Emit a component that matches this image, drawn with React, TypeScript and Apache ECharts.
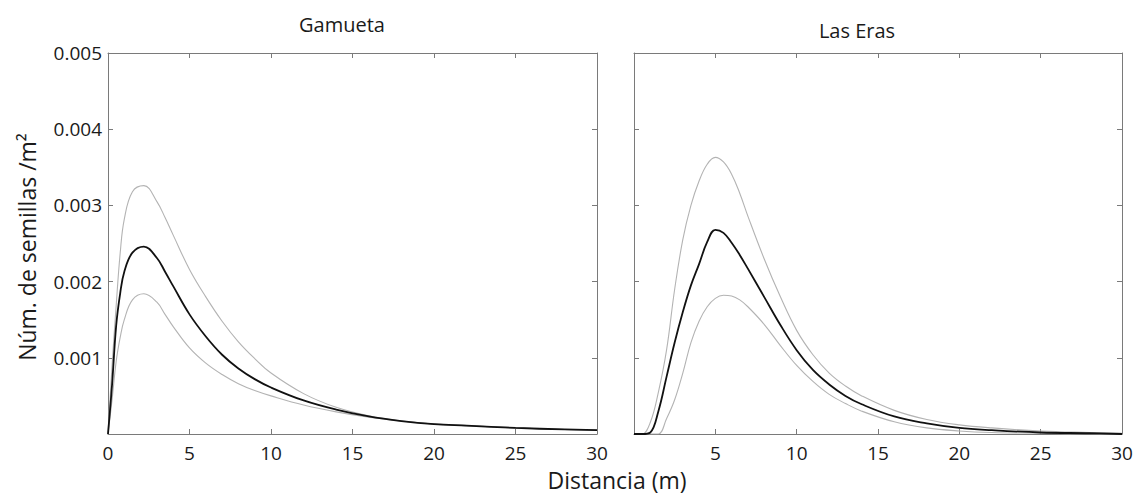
import React, { useEffect, useRef } from "react";
import * as echarts from "echarts";

// ---- Data ----
const gamuetaX = [0, 0.25, 0.5, 0.75, 1, 1.5, 2.2, 3, 3.5, 4, 5, 6, 7, 8, 9, 10, 12, 14, 16, 18, 20, 22, 25, 28, 30];
const gamuetaMean = [0, 0.00065, 0.00142, 0.00185, 0.00213, 0.00238, 0.00246, 0.00231, 0.00213, 0.00194, 0.00157, 0.00128, 0.00104, 0.00086, 0.00072, 0.00061, 0.00044, 0.00032, 0.00023, 0.00017, 0.00013, 0.00011, 0.00008, 0.00006, 0.00005];
const gamuetaUpper = [0, 0.0009, 0.00168, 0.00238, 0.00282, 0.00318, 0.00326, 0.00305, 0.00284, 0.00261, 0.00216, 0.0018, 0.00148, 0.00121, 0.00099, 0.0008, 0.00053, 0.00035, 0.00024, 0.00017, 0.00013, 0.00011, 0.00008, 0.00006, 0.00005];
const gamuetaLower = [0, 0.00045, 0.00095, 0.00127, 0.0015, 0.00176, 0.00184, 0.00173, 0.00157, 0.00141, 0.00113, 0.00093, 0.00078, 0.00066, 0.00057, 0.0005, 0.00038, 0.00029, 0.00022, 0.00017, 0.00013, 0.00011, 0.00008, 0.00006, 0.00005];

const erasX = [0, 0.5, 1, 1.5, 2, 2.5, 3, 3.5, 4, 4.5, 5, 5.5, 6, 6.5, 7, 8, 9, 10, 11, 12, 13, 14, 16, 18, 20, 22, 25, 28, 30];
const erasMean = [0, 0, 0.00002, 0.0003, 0.00075, 0.0012, 0.0016, 0.00195, 0.00223, 0.00252, 0.00268, 0.00264, 0.00251, 0.00235, 0.00217, 0.0018, 0.00143, 0.0011, 0.00084, 0.00065, 0.0005, 0.00039, 0.00023, 0.00014, 0.00008, 0.00005, 0.00002, 0.00001, 0];
const erasUpper = [0, 0, 0.00015, 0.00055, 0.0011, 0.0019, 0.00255, 0.003, 0.00332, 0.00354, 0.00363, 0.00357, 0.00341, 0.00316, 0.00286, 0.0023, 0.0018, 0.00136, 0.00104, 0.0008, 0.00063, 0.0005, 0.00031, 0.00019, 0.00012, 0.00008, 0.00004, 0.00002, 0.00001];
const erasLower = [0, 0, 0, 0, 0.0002, 0.00045, 0.0008, 0.0012, 0.00148, 0.00167, 0.00178, 0.00182, 0.00181, 0.00176, 0.00167, 0.00144, 0.00116, 0.0009, 0.00069, 0.00052, 0.0004, 0.0003, 0.00016, 0.00008, 0.00004, 0.00002, 0.00001, 0, 0];

const xTickLabelsLeft = ["0", "5", "10", "15", "20", "25", "30"];
const xTickLabelsRight = ["", "5", "10", "15", "20", "25", "30"];
const yTickLabels = ["", "0.001", "0.002", "0.003", "0.004", "0.005"];

const titles = ["Gamueta", "Las Eras"];
const xName = "Distancia (m)";
const yName = "Núm. de semillas /m²";

const FONT = "'Open Sans', 'Noto Sans', sans-serif";
const AXIS_COLOR = "#7a7a7a";
const TEXT_COLOR = "#1a1a1a";

function pairs(xs: number[], ys: number[]) {
  return xs.map((x, i) => [x, ys[i]]);
}

function xAxisDef(gridIndex: number, position: "bottom" | "top", labels: string[] | null) {
  return {
    type: "value",
    gridIndex,
    position,
    min: 0,
    max: 30,
    interval: 5,
    axisLine: { show: true, onZero: false, lineStyle: { color: AXIS_COLOR, width: 1 } },
    axisTick: { show: true, inside: true, length: 5, lineStyle: { color: AXIS_COLOR } },
    axisLabel: labels
      ? {
          show: true,
          margin: 9,
          fontFamily: FONT,
          fontSize: 19,
          color: TEXT_COLOR,
          formatter: (v: number) => labels[Math.round(v / 5)] ?? "",
        }
      : { show: false },
    splitLine: { show: false },
  };
}

function yAxisDef(gridIndex: number, position: "left" | "right", labels: string[] | null) {
  return {
    type: "value",
    gridIndex,
    position,
    min: 0,
    max: 0.005,
    interval: 0.001,
    axisLine: { show: true, onZero: false, lineStyle: { color: AXIS_COLOR, width: 1 } },
    axisTick: { show: true, inside: true, length: 5, lineStyle: { color: AXIS_COLOR } },
    axisLabel: labels
      ? {
          show: true,
          margin: 6,
          fontFamily: FONT,
          fontSize: 19,
          color: TEXT_COLOR,
          formatter: (v: number) => labels[Math.round(v / 0.001)] ?? "",
        }
      : { show: false },
    splitLine: { show: false },
  };
}

function lineSeries(name: string, xAxisIndex: number, yAxisIndex: number, xs: number[], ys: number[], color: string, width: number) {
  return {
    name,
    type: "line",
    xAxisIndex,
    yAxisIndex,
    data: pairs(xs, ys),
    smooth: 0.4,
    showSymbol: false,
    symbol: "none",
    lineStyle: { color, width },
    z: width > 1.2 ? 3 : 2,
  };
}

export default function App() {
  const ref = useRef<HTMLDivElement>(null);
  useEffect(() => {
    if (!ref.current) return;
    const chart = echarts.init(ref.current, undefined, { renderer: "svg" });
    const GREY = "#b3b3b3";
    const BLACK = "#111111";
    chart.setOption({
      animation: false,
      backgroundColor: "#ffffff",
      grid: [
        { left: 108, top: 53, width: 489, height: 381 },
        { left: 634, top: 53, width: 488, height: 381 },
      ],
      xAxis: [
        xAxisDef(0, "bottom", xTickLabelsLeft),
        xAxisDef(0, "top", null),
        xAxisDef(1, "bottom", xTickLabelsRight),
        xAxisDef(1, "top", null),
      ],
      yAxis: [
        yAxisDef(0, "left", yTickLabels),
        yAxisDef(0, "right", null),
        yAxisDef(1, "left", null),
        yAxisDef(1, "right", null),
      ],
      series: [
        lineSeries("Gamueta superior", 0, 0, gamuetaX, gamuetaUpper, GREY, 1.1),
        lineSeries("Gamueta inferior", 0, 0, gamuetaX, gamuetaLower, GREY, 1.1),
        lineSeries("Gamueta media", 0, 0, gamuetaX, gamuetaMean, BLACK, 1.8),
        lineSeries("Las Eras superior", 2, 2, erasX, erasUpper, GREY, 1.1),
        lineSeries("Las Eras inferior", 2, 2, erasX, erasLower, GREY, 1.1),
        lineSeries("Las Eras media", 2, 2, erasX, erasMean, BLACK, 1.8),
      ],
      graphic: [
        {
          type: "text",
          x: 342,
          y: 24,
          style: { text: titles[0], fontFamily: FONT, fontSize: 20, fill: TEXT_COLOR, textAlign: "center", textVerticalAlign: "middle" },
        },
        {
          type: "text",
          x: 857,
          y: 30,
          style: { text: titles[1], fontFamily: FONT, fontSize: 20, fill: TEXT_COLOR, textAlign: "center", textVerticalAlign: "middle" },
        },
        {
          type: "text",
          x: 617,
          y: 480,
          style: { text: xName, fontFamily: FONT, fontSize: 23, fill: TEXT_COLOR, textAlign: "center", textVerticalAlign: "middle" },
        },
        {
          type: "text",
          x: 27,
          y: 247,
          rotation: Math.PI / 2,
          style: { text: yName, fontFamily: FONT, fontSize: 23, fill: TEXT_COLOR, textAlign: "center", textVerticalAlign: "middle" },
        },
      ],
    });
    return () => chart.dispose();
  }, []);
  return (
    <div
      ref={ref}
      style={{ position: "fixed", left: 0, top: 0, width: 1139, height: 495, background: "#fff" }}
    />
  );
}
